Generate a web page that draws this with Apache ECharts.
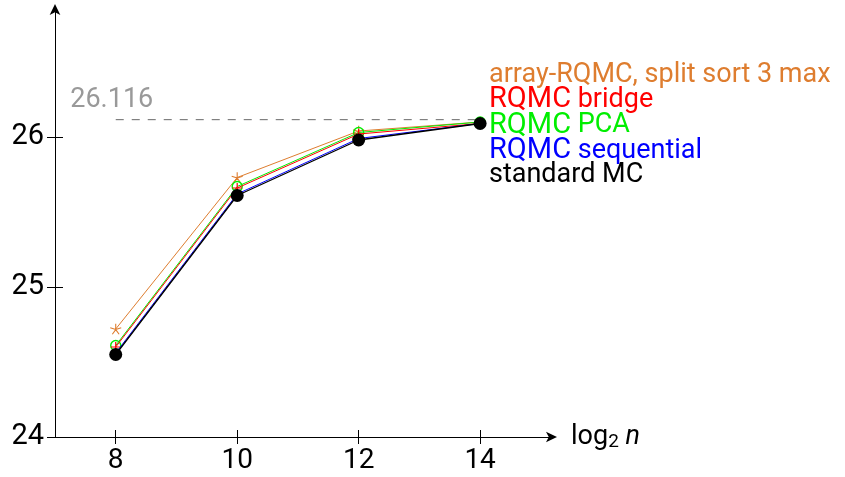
<!DOCTYPE html>
<html>
<head>
<meta charset="utf-8">
<script src="https://cdn.jsdelivr.net/npm/echarts@6/dist/echarts.min.js"></script>
<style>
  html, body { margin: 0; padding: 0; background: #fff; }
  #chart { width: 845px; height: 477px; }
</style>
</head>
<body>
<div id="chart"></div>
<script>
// log2 of the sample size
const xValues = [8, 10, 12, 14];

// estimated mean for each method
const arraySplitSort = [24.72, 25.73, 26.04, 26.10];
const rqmcBridge     = [24.60, 25.66, 26.02, 26.09];
const rqmcPCA        = [24.61, 25.67, 26.03, 26.10];
const rqmcSequential = [24.56, 25.62, 25.99, 26.09];
const standardMC     = [24.55, 25.61, 25.98, 26.09];

const methodNames = ['array-RQMC, split sort 3 max', 'RQMC bridge', 'RQMC PCA', 'RQMC sequential', 'standard MC'];
const methodColors = ['#de7d2f', '#ff0000', '#00ee00', '#0000ff', '#000000'];

// exact value drawn as a dashed reference line
const exactValue = 26.116;

const yTicks = [24, 25, 26];
const xTicks = [8, 10, 12, 14];

const FONT = 'Roboto';

const pts = vals => xValues.map((x, i) => [x, vals[i]]);

// five-armed asterisk and plus marks
const asteriskPath = 'path://M5,5L5,0M5,5L9.755,3.455M5,5L7.939,9.045M5,5L2.061,9.045M5,5L0.245,3.455';
const plusPath = 'path://M5,0L5,10M0,5L10,5';

const chart = echarts.init(document.getElementById('chart'), null, { renderer: 'canvas' });

const commonX = { type: 'value', min: 7, max: 15.2, splitLine: { show: false } };
const commonY = { type: 'value', min: 24, max: 26.86, splitLine: { show: false } };

chart.setOption({
  animation: false,
  backgroundColor: '#ffffff',
  textStyle: { fontFamily: FONT },
  grid: { left: 55, right: 292, top: 8, bottom: 40, containLabel: false },
  legend: {
    orient: 'vertical',
    left: 478,
    top: 57,
    itemGap: -3.5,
    itemWidth: 0,
    itemHeight: 0,
    icon: 'circle',
    selectedMode: false,
    data: methodNames.map((n, i) => ({ name: n, textStyle: { color: methodColors[i] } })),
    formatter: name => name.startsWith('RQMC ') ? '{big|RQMC}{n|' + name.slice(4) + '}' : '{n|' + name + '}',
    textStyle: {
      fontFamily: FONT,
      fontSize: 27,
      rich: {
        big: { fontFamily: FONT, fontSize: 29 },
        n: { fontFamily: FONT, fontSize: 27 }
      }
    }
  },
  xAxis: [
    Object.assign({}, commonX, {
      position: 'bottom',
      axisLine: { show: true, symbol: ['none', 'arrow'], symbolSize: [8, 11], symbolOffset: [0, 4], lineStyle: { color: '#000', width: 1 } },
      axisTick: { show: true, inside: false, length: 7, customValues: xTicks, lineStyle: { color: '#000', width: 1 } },
      axisLabel: { show: true, customValues: xTicks, color: '#000', fontFamily: FONT, fontSize: 28, margin: 10 },
      name: '{t|log}{s|2}{t| }{i|n}',
      nameLocation: 'end',
      nameGap: 18,
      nameTextStyle: {
        color: '#000',
        fontFamily: FONT,
        rich: {
          t: { fontFamily: FONT, fontSize: 27, color: '#000' },
          s: { fontFamily: FONT, fontSize: 19, color: '#000', verticalAlign: 'bottom', padding: [10, 0, 0, 0] },
          i: { fontFamily: FONT, fontSize: 27, fontStyle: 'italic', color: '#000' }
        }
      }
    }),
    Object.assign({}, commonX, {
      position: 'bottom',
      axisLine: { show: false },
      axisTick: { show: true, inside: true, length: 7, customValues: xTicks, lineStyle: { color: '#000', width: 1 } },
      axisLabel: { show: false }
    })
  ],
  yAxis: [
    Object.assign({}, commonY, {
      position: 'left',
      axisLine: { show: true, symbol: ['none', 'arrow'], symbolSize: [8, 11], symbolOffset: [0, 4], lineStyle: { color: '#000', width: 1 } },
      axisTick: { show: true, inside: false, length: 8, customValues: yTicks, lineStyle: { color: '#000', width: 1 } },
      axisLabel: { show: true, customValues: yTicks, color: '#000', fontFamily: FONT, fontSize: 29, margin: 11 }
    }),
    Object.assign({}, commonY, {
      position: 'left',
      axisLine: { show: false },
      axisTick: { show: true, inside: true, length: 8, customValues: yTicks, lineStyle: { color: '#000', width: 1 } },
      axisLabel: { show: false }
    })
  ],
  series: [
    {
      name: 'exact',
      type: 'line',
      data: [[8, exactValue], [14, exactValue]],
      symbol: 'none',
      lineStyle: { color: '#808080', width: 1.2, type: [8, 8] },
      z: 1
    },
    {
      name: 'exact-label',
      type: 'scatter',
      data: [[8, exactValue]],
      symbolSize: 0,
      label: {
        show: true,
        position: 'top',
        distance: 6,
        offset: [-4, 0],
        formatter: () => exactValue.toFixed(3),
        color: '#808080',
        fontFamily: FONT,
        fontSize: 27
      },
      silent: true,
      z: 1
    },
    {
      name: methodNames[0], type: 'line', data: pts(arraySplitSort),
      symbol: asteriskPath, symbolSize: 11, symbolKeepAspect: true,
      itemStyle: { color: 'rgba(0,0,0,0)', borderColor: methodColors[0], borderWidth: 1.1 },
      lineStyle: { color: methodColors[0], width: 1 }, z: 2
    },
    {
      name: methodNames[2], type: 'line', data: pts(rqmcPCA),
      symbol: 'circle', symbolSize: 10,
      itemStyle: { color: 'rgba(0,0,0,0)', borderColor: methodColors[2], borderWidth: 1.4 },
      lineStyle: { color: methodColors[2], width: 1 }, z: 3
    },
    {
      name: methodNames[1], type: 'line', data: pts(rqmcBridge),
      symbol: plusPath, symbolSize: 10,
      itemStyle: { color: 'rgba(0,0,0,0)', borderColor: methodColors[1], borderWidth: 1.2 },
      lineStyle: { color: methodColors[1], width: 1 }, z: 4
    },
    {
      name: methodNames[3], type: 'line', data: pts(rqmcSequential),
      symbol: 'none',
      lineStyle: { color: methodColors[3], width: 1 }, z: 5
    },
    {
      name: methodNames[4], type: 'line', data: pts(standardMC),
      symbol: 'circle', symbolSize: 13,
      itemStyle: { color: methodColors[4] },
      lineStyle: { color: methodColors[4], width: 1.3 }, z: 6
    }
  ]
});
</script>
</body>
</html>
